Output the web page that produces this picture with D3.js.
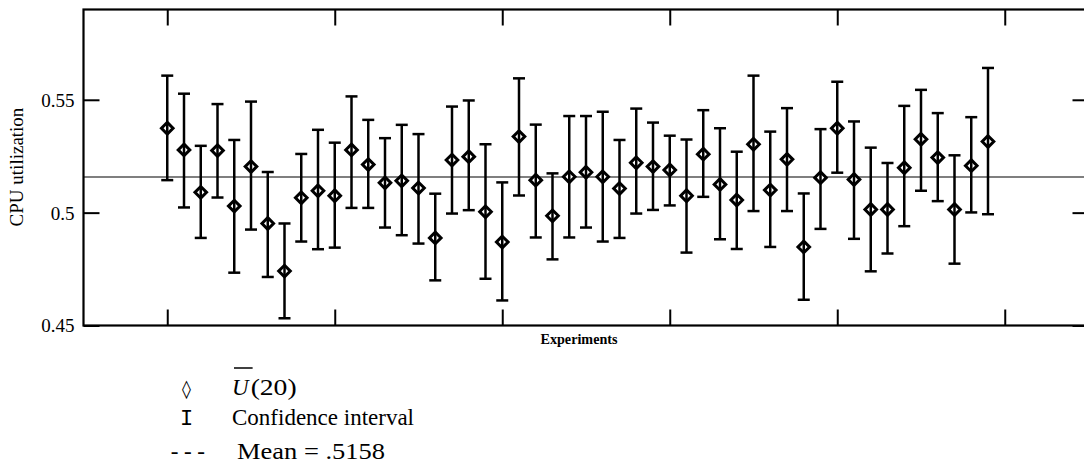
<!DOCTYPE html>
<html>
<head>
<meta charset="utf-8">
<script src="https://cdn.jsdelivr.net/npm/d3@7"></script>
<style>
    body { margin: 0; background: #fff; }
    svg text { fill: #000; }
</style>
</head>
<body>
<svg id="chart" width="1084" height="470"></svg>
<script>
// U(20) estimate per experiment, and the ends of its confidence interval
const means = [0.5374, 0.5278, 0.5090, 0.5275, 0.5029, 0.5204, 0.4952, 0.4741, 0.5066, 0.5097,
               0.5075, 0.5278, 0.5213, 0.5132, 0.5141, 0.5109, 0.4888, 0.5233, 0.5248, 0.5004,
               0.4870, 0.5337, 0.5144, 0.4986, 0.5159, 0.5179, 0.5159, 0.5107, 0.5221, 0.5204,
               0.5189, 0.5075, 0.5259, 0.5125, 0.5056, 0.5303, 0.5100, 0.5236, 0.4848, 0.5155,
               0.5374, 0.5147, 0.5014, 0.5014, 0.5199, 0.5325, 0.5244, 0.5014, 0.5208, 0.5315];
const upper = [0.5607, 0.5527, 0.5296, 0.5481, 0.5322, 0.5492, 0.5180, 0.4952, 0.5260, 0.5367,
               0.5310, 0.5515, 0.5411, 0.5330, 0.5389, 0.5348, 0.5084, 0.5470, 0.5497, 0.5303,
               0.5134, 0.5595, 0.5390, 0.5174, 0.5428, 0.5428, 0.5447, 0.5322, 0.5461, 0.5399,
               0.5341, 0.5324, 0.5454, 0.5374, 0.5270, 0.5607, 0.5359, 0.5463, 0.5085, 0.5370,
               0.5580, 0.5404, 0.5288, 0.5220, 0.5473, 0.5544, 0.5441, 0.5254, 0.5423, 0.5641];
const lower = [0.5144, 0.5023, 0.4888, 0.5067, 0.4734, 0.4925, 0.4715, 0.4532, 0.4872, 0.4838,
               0.4845, 0.5021, 0.5021, 0.4934, 0.4900, 0.4863, 0.4700, 0.4996, 0.5011, 0.4707,
               0.4611, 0.5076, 0.4890, 0.4793, 0.4890, 0.4934, 0.4872, 0.4888, 0.4996, 0.5012,
               0.5032, 0.4823, 0.5070, 0.4882, 0.4839, 0.5007, 0.4848, 0.5007, 0.4614, 0.4928,
               0.5177, 0.4884, 0.4740, 0.4819, 0.4940, 0.5097, 0.5051, 0.4774, 0.5001, 0.4993];
const meanValue = 0.5158;
const yTicks = [0.45, 0.5, 0.55];
const yTickLabels = ['0.45', '0.5', '0.55'];
const xTicks = [0, 10, 20, 30, 40, 50];

const serif = '"Liberation Serif", "Times New Roman", "DejaVu Serif", serif';
const mono = '"Liberation Mono", "Courier New", monospace';

const svg = d3.select('svg#chart');
const margin = {top: 9.5, right: -4.5, bottom: 144.5, left: 83.5};
const width = +svg.attr('width') - margin.left - margin.right;
const height = +svg.attr('height') - margin.top - margin.bottom;
const g = svg.append('g').attr('transform', `translate(${margin.left},${margin.top})`);

const x = d3.scaleLinear().domain([-5, 55]).range([0, width]);
const y = d3.scaleLinear().domain([0.45, 0.59]).range([height, 0]);

const tidy = (axis) => {
    axis.select('.domain').remove();
    axis.selectAll('line').attr('stroke', '#000').attr('stroke-width', 2);
};

// inward ticks on all four sides
g.append('g')
    .call(d3.axisLeft(y).tickValues(yTicks).tickFormat((d, i) => yTickLabels[i])
        .tickSizeInner(-16).tickSizeOuter(0).tickPadding(9))
    .call(tidy)
    .call(a => a.selectAll('text')
        .style('font-family', serif)
        .style('font-size', '19px')
        .attr('dy', '0.34em'));

g.append('g')
    .attr('transform', `translate(${width},0)`)
    .call(d3.axisRight(y).tickValues(yTicks).tickFormat('').tickSizeInner(-16).tickSizeOuter(0))
    .call(tidy);

g.append('g')
    .attr('transform', `translate(0,${height})`)
    .call(d3.axisBottom(x).tickValues(xTicks).tickFormat('').tickSizeInner(-16).tickSizeOuter(0))
    .call(tidy);

g.append('g')
    .call(d3.axisTop(x).tickValues(xTicks).tickFormat('').tickSizeInner(-16).tickSizeOuter(0))
    .call(tidy);

g.append('rect')
    .attr('width', width)
    .attr('height', height)
    .attr('fill', 'none')
    .attr('stroke', '#000')
    .attr('stroke-width', 2.2);

g.append('line')
    .attr('x1', 0)
    .attr('x2', width)
    .attr('y1', y(meanValue))
    .attr('y2', y(meanValue))
    .attr('stroke', '#000')
    .attr('stroke-width', 1.1);

const data = means.map((m, i) => ({i: i, m: m, lo: lower[i], hi: upper[i]}));
const cap = 6;
const s = 5.8;

const pts = g.append('g').selectAll('g')
    .data(data)
    .enter().append('g');

pts.append('path')
    .attr('d', d => `M${x(d.i)},${y(d.m) - s}L${x(d.i) + s},${y(d.m)}L${x(d.i)},${y(d.m) + s}L${x(d.i) - s},${y(d.m)}Z`)
    .attr('fill', '#fff')
    .attr('stroke', '#000')
    .attr('stroke-width', 3);

pts.append('line')
    .attr('x1', d => x(d.i))
    .attr('x2', d => x(d.i))
    .attr('y1', d => y(d.hi))
    .attr('y2', d => y(d.lo))
    .attr('stroke', '#000')
    .attr('stroke-width', 2.5);

['hi', 'lo'].forEach(k => {
    pts.append('line')
        .attr('x1', d => x(d.i) - cap)
        .attr('x2', d => x(d.i) + cap)
        .attr('y1', d => y(d[k]))
        .attr('y2', d => y(d[k]))
        .attr('stroke', '#000')
        .attr('stroke-width', 2.5);
});

// axis titles
svg.append('text')
    .attr('transform', 'translate(23,167) rotate(-90)')
    .attr('text-anchor', 'middle')
    .style('font-family', serif)
    .style('font-size', '19px')
    .text('CPU utilization');

svg.append('text')
    .attr('x', 579)
    .attr('y', 344)
    .attr('text-anchor', 'middle')
    .style('font-family', serif)
    .style('font-size', '15px')
    .style('font-weight', 'bold')
    .attr('textLength', 77)
    .attr('lengthAdjust', 'spacingAndGlyphs')
    .text('Experiments');

// legend
const legend = svg.append('g');

legend.append('text')
    .attr('x', 186.5).attr('y', 395)
    .attr('text-anchor', 'middle')
    .style('font-family', '"DejaVu Sans", sans-serif')
    .style('font-size', '18px')
    .text('\u25CA');

const u = legend.append('text')
    .attr('x', 232).attr('y', 395)
    .style('font-family', serif)
    .style('font-size', '23px')
    .style('font-style', 'italic')
    .text('U');
const uLen = u.node().getComputedTextLength();

legend.append('line')
    .attr('x1', 234).attr('x2', 234 + uLen + 2)
    .attr('y1', 368).attr('y2', 368)
    .attr('stroke', '#000')
    .attr('stroke-width', 1.5);

legend.append('text')
    .attr('x', 232 + uLen + 2).attr('y', 395)
    .style('font-family', serif)
    .style('font-size', '23px')
    .attr('textLength', 46)
    .attr('lengthAdjust', 'spacingAndGlyphs')
    .text('(20)');

legend.append('text')
    .attr('x', 186.5).attr('y', 425)
    .attr('text-anchor', 'middle')
    .style('font-family', mono)
    .style('font-size', '22px')
    .text('I');

legend.append('text')
    .attr('x', 232).attr('y', 425)
    .style('font-family', serif)
    .style('font-size', '23px')
    .text('Confidence interval');

legend.append('text')
    .attr('x', 168).attr('y', 459)
    .style('font-family', mono)
    .style('font-size', '22px')
    .text('---');

legend.append('text')
    .attr('x', 237).attr('y', 459)
    .style('font-family', serif)
    .style('font-size', '23px')
    .attr('textLength', 148)
    .attr('lengthAdjust', 'spacingAndGlyphs')
    .text('Mean = .5158');
</script>
</body>
</html>
